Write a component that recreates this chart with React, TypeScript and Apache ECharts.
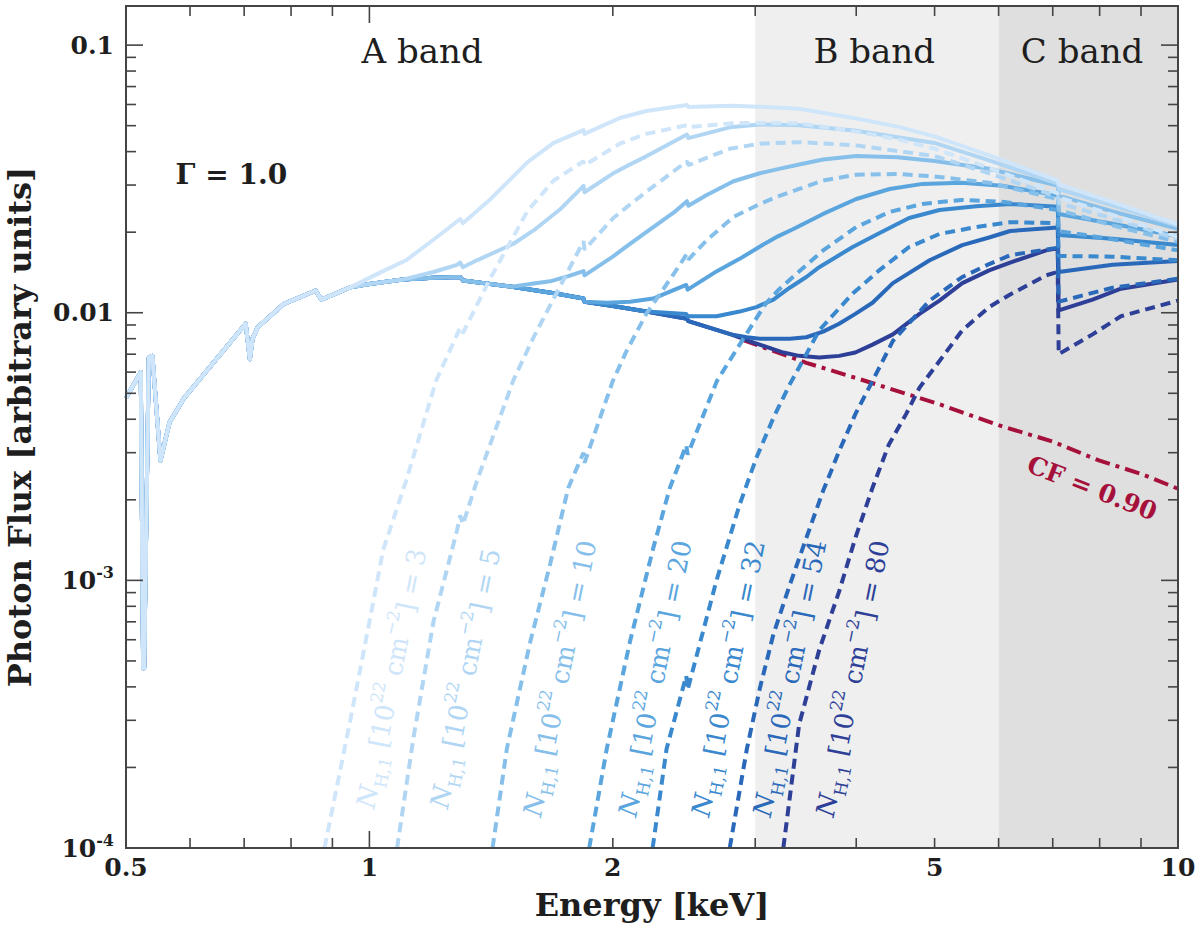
import { useEffect, useRef } from "react";
import * as echarts from "echarts";

type Pt = [number, number];

// column densities N_H,1 [1e22 cm^-2], one solid (total) + one dashed (absorbed) curve each
const NH = [3, 5, 10, 20, 32, 54, 80];

// part shared by every total spectrum below ~0.9 keV
const LOW_E: Pt[] = [
  [0.5, 0.0048], [0.5215, 0.006], [0.525, 0.00047], [0.5265, 0.00047], [0.5335, 0.0068],
  [0.539, 0.0069], [0.5515, 0.0028], [0.566, 0.0039], [0.59, 0.0048], [0.63, 0.0061],
  [0.703, 0.0091], [0.7115, 0.0067], [0.717, 0.008], [0.727, 0.0088], [0.784, 0.0108],
  [0.858, 0.0121], [0.872, 0.0112],
];

// scattered (unabsorbed 10%) part, on which the totals sit until they rise
const SCATTER: Pt[] = [
  [0.947, 0.01244], [1.0, 0.0128], [1.1, 0.0133], [1.2, 0.0135], [1.295, 0.0136], [1.305, 0.0132],
  [1.5, 0.0125], [1.7, 0.0118], [1.84, 0.0113], [1.845, 0.011], [2.0, 0.0106], [2.2, 0.0101],
  [2.47, 0.0095], [2.48, 0.0093], [2.8, 0.0083], [3.0, 0.0077], [3.25, 0.0071],
];

const CF_LINE: Pt[] = [
  [2.9, 0.0079], [3.47, 0.0065], [4.0, 0.0057], [5.07, 0.00455], [6.0, 0.0038],
  [7.0, 0.0033], [8.0, 0.0028], [9.0, 0.0025], [10, 0.0022],
];

const TOTAL_3: Pt[] = [
  [1.0, 0.0135], [1.04, 0.0143], [1.11, 0.0157], [1.21, 0.0191], [1.295, 0.0224], [1.305, 0.0216],
  [1.41, 0.0265], [1.57, 0.0366], [1.69, 0.0431], [1.84, 0.0481], [1.845, 0.0466], [2.04, 0.0534],
  [2.2, 0.0567], [2.47, 0.0597], [2.48, 0.0587], [2.8, 0.0593], [3.04, 0.0589], [3.4, 0.0578],
  [4.0, 0.0532], [4.5, 0.0496], [5.0, 0.0456], [5.84, 0.0387], [7.1, 0.0312], [7.12, 0.0302],
  [8.3, 0.0259], [10, 0.0214],
];
const ABS_3: Pt[] = [
  [0.88, 1e-4], [0.947, 3.0e-4], [1.0, 7.0e-4], [1.04, 1.3e-3], [1.11, 2.35e-3], [1.21, 5.6e-3],
  [1.295, 8.8e-3], [1.305, 8.4e-3], [1.41, 0.0134], [1.57, 0.0241], [1.69, 0.0312], [1.84, 0.0368],
  [1.845, 0.0356], [2.04, 0.0428], [2.2, 0.0466], [2.47, 0.0502], [2.48, 0.0494], [2.8, 0.051],
  [3.04, 0.0512], [3.4, 0.051], [4.0, 0.0475], [4.5, 0.0445], [5.0, 0.041], [5.84, 0.0348],
  [7.1, 0.0279], [7.12, 0.027], [8.3, 0.0232], [10, 0.0192],
];

const TOTAL_5: Pt[] = [
  [1.2, 0.0142], [1.283, 0.0151], [1.295, 0.0154], [1.305, 0.0148], [1.358, 0.0157], [1.507, 0.0181],
  [1.596, 0.0203], [1.72, 0.0243], [1.84, 0.0298], [1.845, 0.0282], [2.0, 0.0331], [2.08, 0.0353],
  [2.2, 0.0384], [2.47, 0.0463], [2.48, 0.0449], [2.79, 0.0493], [3.04, 0.0505], [3.4, 0.0502],
  [4.0, 0.0479], [5.0, 0.0431], [5.84, 0.0371], [7.1, 0.0304], [7.12, 0.029], [8.3, 0.0252],
  [10, 0.0211],
];
const ABS_5: Pt[] = [
  [1.082, 1e-4], [1.134, 2.6e-4], [1.2, 7.0e-4], [1.283, 1.53e-3], [1.295, 1.75e-3], [1.305, 1.62e-3],
  [1.358, 2.35e-3], [1.507, 5.6e-3], [1.596, 8.1e-3], [1.72, 0.0125], [1.84, 0.0185], [1.845, 0.0172],
  [2.0, 0.0225], [2.08, 0.0248], [2.2, 0.0283], [2.47, 0.0368], [2.48, 0.0356], [2.79, 0.041],
  [3.04, 0.0428], [3.4, 0.0434], [4.0, 0.0422], [5.0, 0.0385], [5.84, 0.0332], [7.1, 0.0271],
  [7.12, 0.0257], [8.3, 0.0225], [10, 0.0189],
];

const TOTAL_10: Pt[] = [
  [1.58, 0.0128], [1.673, 0.0131], [1.762, 0.0137], [1.84, 0.0143], [1.845, 0.0138], [2.0, 0.0162],
  [2.08, 0.0177], [2.2, 0.02], [2.38, 0.0237], [2.47, 0.0261], [2.48, 0.0251], [2.61, 0.0275],
  [2.82, 0.031], [3.04, 0.0332], [3.2, 0.0344], [3.4, 0.0358], [3.64, 0.0374], [4.0, 0.0385],
  [4.5, 0.0381], [5.0, 0.0369], [5.84, 0.0345], [7.1, 0.0299], [7.12, 0.0274], [8.3, 0.0239],
  [10, 0.0206],
];
const ABS_10: Pt[] = [
  [1.42, 1e-4], [1.479, 2.35e-4], [1.581, 5.9e-4], [1.673, 1.15e-3], [1.762, 2.22e-3], [1.84, 3.0e-3],
  [1.845, 2.75e-3], [2.0, 5.56e-3], [2.08, 7.2e-3], [2.2, 9.9e-3], [2.38, 0.014], [2.47, 0.0166],
  [2.48, 0.0158], [2.61, 0.0186], [2.82, 0.0228], [3.04, 0.0255], [3.2, 0.0272], [3.4, 0.029],
  [3.64, 0.0312], [4.0, 0.0328], [4.5, 0.033], [5.0, 0.0323], [5.84, 0.0306], [7.1, 0.0266],
  [7.12, 0.0242], [8.3, 0.0212], [10, 0.0184],
];

const TOTAL_20: Pt[] = [
  [1.97, 0.0109], [2.1, 0.011], [2.244, 0.0113], [2.353, 0.012], [2.465, 0.0127], [2.475, 0.0122],
  [2.69, 0.0143], [2.87, 0.0159], [3.09, 0.0182], [3.2, 0.0193], [3.34, 0.0205], [3.64, 0.0234],
  [4.0, 0.0266], [4.4, 0.029], [4.83, 0.0303], [5.4, 0.0306], [6.06, 0.0298], [7.1, 0.0275],
  [7.12, 0.0234], [8.3, 0.0215], [10, 0.0193],
];
const ABS_20: Pt[] = [
  [1.87, 1e-4], [1.966, 2.35e-4], [2.1, 5.9e-4], [2.244, 1.32e-3], [2.353, 2.22e-3], [2.465, 3.2e-3],
  [2.475, 2.95e-3], [2.69, 5.56e-3], [2.87, 7.6e-3], [3.09, 0.0108], [3.2, 0.0121], [3.34, 0.0136],
  [3.64, 0.0171], [4.0, 0.0209], [4.4, 0.0238], [4.83, 0.0255], [5.4, 0.0264], [6.06, 0.026],
  [7.1, 0.0242], [7.12, 0.0202], [8.3, 0.0188], [10, 0.0171],
];

const TOTAL_32: Pt[] = [
  [2.331, 0.01], [2.465, 0.0099], [2.475, 0.0097], [2.687, 0.0097], [2.87, 0.0101], [3.01, 0.0105],
  [3.16, 0.0112], [3.31, 0.0124], [3.47, 0.0136], [3.6, 0.0148], [3.96, 0.0176], [4.27, 0.0198],
  [4.65, 0.0226], [5.07, 0.0242], [5.63, 0.025], [6.2, 0.0255], [7.1, 0.0249], [7.12, 0.0195],
  [8.3, 0.0189], [10, 0.0179],
];
const ABS_32: Pt[] = [
  [2.24, 1e-4], [2.331, 2.35e-4], [2.465, 4.4e-4], [2.475, 3.9e-4], [2.687, 1.0e-3], [2.87, 1.92e-3],
  [3.01, 2.87e-3], [3.16, 4.05e-3], [3.31, 5.4e-3], [3.47, 7.0e-3], [3.6, 8.6e-3], [3.96, 0.0118],
  [4.27, 0.0144], [4.65, 0.0176], [5.07, 0.0197], [5.63, 0.0209], [6.2, 0.0218], [7.1, 0.0216],
  [7.12, 0.0163], [8.3, 0.0162], [10, 0.0157],
];

const TOTAL_54: Pt[] = [
  [2.93, 0.0081], [3.04, 0.008], [3.16, 0.008], [3.31, 0.008], [3.47, 0.0081], [3.64, 0.0085],
  [3.81, 0.0091], [3.99, 0.0099], [4.19, 0.0109], [4.44, 0.0129], [4.93, 0.0157], [5.41, 0.0179],
  [5.84, 0.0191], [6.2, 0.0202], [7.1, 0.0208], [7.12, 0.0142], [8.3, 0.0151], [10, 0.0156],
];
const ABS_54: Pt[] = [
  [2.79, 1e-4], [2.93, 2.35e-4], [3.04, 3.95e-4], [3.16, 6.3e-4], [3.31, 9.6e-4], [3.47, 1.44e-3],
  [3.64, 2.16e-3], [3.81, 3.04e-3], [3.99, 4.18e-3], [4.19, 5.56e-3], [4.44, 7.85e-3], [4.93, 0.0111],
  [5.41, 0.0136], [5.84, 0.0152], [6.2, 0.0164], [7.1, 0.0175], [7.12, 0.011], [8.3, 0.0124],
  [10, 0.0134],
];

const TOTAL_80: Pt[] = [
  [3.4, 0.0069], [3.6, 0.0068], [3.81, 0.0069], [3.99, 0.0071], [4.19, 0.0076], [4.44, 0.0083],
  [4.79, 0.0099], [5.07, 0.0111], [5.41, 0.0129], [5.84, 0.0144], [6.2, 0.0154], [6.87, 0.0171],
  [7.1, 0.0174], [7.12, 0.0102], [7.84, 0.0112], [8.5, 0.0123], [10, 0.0133],
];
const ABS_80: Pt[] = [
  [3.25, 1e-4], [3.4, 2.9e-4], [3.6, 5.5e-4], [3.81, 9.1e-4], [3.99, 1.44e-3], [4.19, 2.22e-3],
  [4.39, 3.22e-3], [4.61, 4.18e-3], [4.79, 5.25e-3], [5.07, 6.6e-3], [5.41, 8.6e-3], [5.84, 0.0105],
  [6.2, 0.0117], [6.87, 0.0138], [7.1, 0.0142], [7.12, 0.007], [7.84, 0.0083], [8.5, 0.0097],
  [10, 0.0111],
];

const TOTALS = [TOTAL_3, TOTAL_5, TOTAL_10, TOTAL_20, TOTAL_32, TOTAL_54, TOTAL_80];
const ABSORBED = [ABS_3, ABS_5, ABS_10, ABS_20, ABS_32, ABS_54, ABS_80];

const BAND_EDGES = [3, 6, 10];
const BAND_NAMES = ["A band", "B band", "C band"];

const X_LABELS = [0.5, 1, 2, 5, 10];
const X_MAJOR = [1];
const X_MINOR = [0.6, 0.7, 0.8, 0.9, 2, 3, 4, 5, 6, 7, 8, 9];
const Y_MAJOR = [0.001, 0.01, 0.1];
const Y_MINOR = [
  2e-4, 3e-4, 4e-4, 5e-4, 6e-4, 7e-4, 8e-4, 9e-4,
  0.002, 0.003, 0.004, 0.005, 0.006, 0.007, 0.008, 0.009,
  0.02, 0.03, 0.04, 0.05, 0.06, 0.07, 0.08, 0.09,
];

// annotation anchors, in data units
const NH_LABEL_AT: Pt[] = [
  [1.065, 4.3e-4], [1.314, 4.3e-4], [1.72, 4.3e-4], [2.256, 4.3e-4],
  [2.778, 4.3e-4], [3.31, 4.3e-4], [3.96, 4.3e-4],
];
const BAND_LABEL_AT: Pt[] = [[1.162, 0.095], [4.21, 0.095], [7.61, 0.095]];
const GAMMA_AT: Pt = [0.675, 0.0329];
const CF_AT: Pt = [7.83, 0.00221];

const COLORS = ["#cfe5fa", "#b1d6f4", "#86c0ea", "#5aa5de", "#3a88cd", "#2a69b9", "#2e3f97"];
const CF_COLOR = "#a6113c";
const INK = "#1e1e1e";
const FRAME = "#444";
const FONT = '"DejaVu Serif", "Liberation Serif", serif';

function solidData(i: number): Pt[] {
  const own = TOTALS[i];
  const start = own[0][0];
  return [...LOW_E, ...SCATTER.filter((p) => p[0] < start), ...own];
}

function buildOption(): echarts.EChartsOption {
  const curves: any[] = [];
  for (let i = NH.length - 1; i >= 0; i--) {
    curves.push({
      type: "line",
      data: ABSORBED[i],
      symbol: "none",
      silent: true,
      lineStyle: { color: COLORS[i], width: 4, type: [10, 6] },
    });
    curves.push({
      type: "line",
      data: solidData(i),
      symbol: "none",
      silent: true,
      lineStyle: { color: COLORS[i], width: 4, join: "round" },
    });
  }

  const decorData: number[][] = [
    ...X_MAJOR.map((v) => [v, 0.001, 0, 1]),
    ...X_MINOR.map((v) => [v, 0.001, 0, 0]),
    ...Y_MAJOR.map((v) => [1, v, 1, 1]),
    ...Y_MINOR.map((v) => [1, v, 1, 0]),
    ...X_LABELS.map((v, i) => [v, 0.001, 2, i]),
    [1, 0.001, 3, 0],
  ];

  const noteData: number[][] = [
    ...NH_LABEL_AT.map((p, i) => [p[0], p[1], 0, i]),
    ...BAND_LABEL_AT.map((p, i) => [p[0], p[1], 1, i]),
    [GAMMA_AT[0], GAMMA_AT[1], 2, 0],
    [CF_AT[0], CF_AT[1], 3, 0],
  ];

  const nhRich = {
    n: { fontFamily: FONT, fontSize: 26, fontStyle: "italic", lineHeight: 38 },
    sub: { fontFamily: FONT, fontSize: 17, verticalAlign: "bottom" },
    sup: { fontFamily: FONT, fontSize: 17, verticalAlign: "top" },
  };

  return {
    animation: false,
    backgroundColor: "#fff",
    grid: { left: 126, right: 22, top: 6, bottom: 85, show: false, outerBoundsMode: "none" } as any,
    xAxis: {
      type: "log",
      logBase: 10,
      min: 0.5,
      max: 10,
      axisLine: { show: false },
      axisTick: { show: false },
      axisLabel: { show: false },
      splitLine: { show: false },
      name: "Energy [keV]",
      nameLocation: "middle",
      nameGap: 41,
      nameTextStyle: { fontFamily: FONT, fontWeight: "bold", fontSize: 32, color: INK },
    },
    yAxis: {
      type: "log",
      logBase: 10,
      min: 1e-4,
      max: 0.14,
      axisLine: { show: false },
      axisTick: { show: false },
      splitLine: { show: false },
      axisLabel: {
        showMaxLabel: false,
        margin: 12,
        fontFamily: FONT,
        fontWeight: "bold",
        fontSize: 25,
        color: INK,
        formatter: (v: number) => {
          const e = Math.round(Math.log10(v));
          if (e === -1) return "0.1";
          if (e === -2) return "0.01";
          return `{b|10}{sup|${e}}`;
        },
        rich: {
          b: { fontFamily: FONT, fontWeight: "bold", fontSize: 25, lineHeight: 32, color: INK },
          sup: { fontFamily: FONT, fontWeight: "bold", fontSize: 16, verticalAlign: "top", color: INK },
        },
      },
      name: "Photon Flux [arbitrary units]",
      nameLocation: "middle",
      nameGap: 90,
      nameTextStyle: { fontFamily: FONT, fontWeight: "bold", fontSize: 32, color: INK },
    },
    series: [
      {
        type: "line",
        data: [],
        silent: true,
        markArea: {
          silent: true,
          data: [
            [{ xAxis: BAND_EDGES[0], itemStyle: { color: "#efefef" } }, { xAxis: BAND_EDGES[1] }],
            [{ xAxis: BAND_EDGES[1], itemStyle: { color: "#dfdfdf" } }, { xAxis: BAND_EDGES[2] }],
          ],
        },
      },
      {
        type: "line",
        data: CF_LINE,
        symbol: "none",
        silent: true,
        lineStyle: { color: CF_COLOR, width: 4, type: [15, 6, 4, 6] },
      },
      ...curves,
      {
        type: "custom",
        data: noteData,
        silent: true,
        z: 5,
        renderItem: (_params: any, api: any) => {
          const kind = api.value(2);
          const i = api.value(3);
          const p = api.coord([api.value(0), api.value(1)]);
          if (kind === 0) {
            return {
              type: "text",
              x: p[0],
              y: p[1],
              rotation: 1.37,
              style: {
                text: `{n|N}{sub|H,1} [10{sup|22} cm{sup|\u22122}] = ${NH[i]}`,
                fill: COLORS[i],
                fontFamily: FONT,
                fontSize: 26,
                lineHeight: 38,
                align: "center",
                verticalAlign: "middle",
                rich: nhRich,
              },
            };
          }
          if (kind === 1) {
            return {
              type: "text",
              x: p[0],
              y: p[1],
              style: {
                text: BAND_NAMES[i],
                fill: INK,
                fontFamily: FONT,
                fontSize: 34,
                align: "center",
                verticalAlign: "middle",
              },
            };
          }
          if (kind === 2) {
            return {
              type: "text",
              x: p[0],
              y: p[1],
              style: {
                text: "\u0393 = 1.0",
                fill: INK,
                fontFamily: FONT,
                fontWeight: "bold",
                fontSize: 28,
                align: "center",
                verticalAlign: "middle",
              },
            };
          }
          return {
            type: "text",
            x: p[0],
            y: p[1],
            rotation: -0.37,
            style: {
              text: "CF = 0.90",
              fill: CF_COLOR,
              fontFamily: FONT,
              fontWeight: "bold",
              fontSize: 25,
              align: "center",
              verticalAlign: "middle",
            },
          };
        },
      },
      {
        type: "custom",
        data: decorData,
        silent: true,
        z: 6,
        renderItem: (params: any, api: any) => {
          const cs = params.coordSys;
          const kind = api.value(2);
          const stroke = { stroke: FRAME, lineWidth: 1.6 };
          const bottom = cs.y + cs.height;
          const right = cs.x + cs.width;
          if (kind === 0) {
            const x = api.coord([api.value(0), api.value(1)])[0];
            const len = api.value(3) ? 17 : 10;
            return {
              type: "group",
              children: [
                { type: "line", shape: { x1: x, y1: bottom, x2: x, y2: bottom - len }, style: stroke },
                { type: "line", shape: { x1: x, y1: cs.y, x2: x, y2: cs.y + len }, style: stroke },
              ],
            };
          }
          if (kind === 1) {
            const y = api.coord([api.value(0), api.value(1)])[1];
            const len = api.value(3) ? 17 : 10;
            return {
              type: "group",
              children: [
                { type: "line", shape: { x1: cs.x, y1: y, x2: cs.x + len, y2: y }, style: stroke },
                { type: "line", shape: { x1: right, y1: y, x2: right - len, y2: y }, style: stroke },
              ],
            };
          }
          if (kind === 2) {
            const x = api.coord([api.value(0), api.value(1)])[0];
            return {
              type: "text",
              x,
              y: bottom + 7,
              style: {
                text: String(X_LABELS[api.value(3)]),
                fill: INK,
                fontFamily: FONT,
                fontWeight: "bold",
                fontSize: 25,
                align: "center",
                verticalAlign: "top",
              },
            };
          }
          return {
            type: "rect",
            shape: { x: cs.x, y: cs.y, width: cs.width, height: cs.height },
            style: { fill: "none", stroke: FRAME, lineWidth: 2 },
          };
        },
      },
    ],
  } as echarts.EChartsOption;
}

export default function App() {
  const ref = useRef<HTMLDivElement>(null);

  useEffect(() => {
    if (!ref.current) return;
    const chart = echarts.init(ref.current, undefined, { renderer: "svg" });
    chart.setOption(buildOption());
    return () => chart.dispose();
  }, []);

  return (
    <div
      ref={ref}
      style={{ position: "fixed", left: 0, top: 0, width: 1200, height: 933, background: "#fff" }}
    />
  );
}
